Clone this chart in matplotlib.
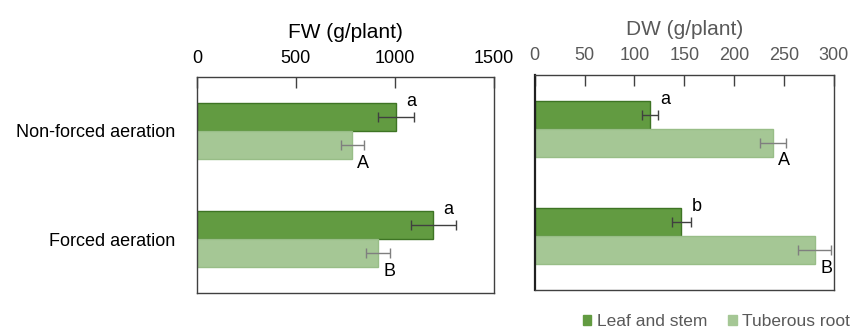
import numpy as np
import matplotlib
matplotlib.use('Agg')
import matplotlib.pyplot as plt
from matplotlib.patches import Patch

plt.rcParams['font.family'] = ['Liberation Sans', 'DejaVu Sans']

# --- data ---
treatments = ['Non-forced aeration', 'Forced aeration']
series = ['Leaf and stem', 'Tuberous root']

fw_leaf = [1005, 1195]
fw_leaf_err = [90, 112]
fw_root = [785, 915]
fw_root_err = [57, 62]
fw_leaf_sig = ['a', 'a']
fw_root_sig = ['A', 'B']

dw_leaf = [116, 147]
dw_leaf_err = [8, 9.5]
dw_root = [239, 281]
dw_root_err = [13, 16.5]
dw_leaf_sig = ['a', 'b']
dw_root_sig = ['A', 'B']

fw_ticks = [0, 500, 1000, 1500]
dw_ticks = [0, 50, 100, 150, 200, 250, 300]

DARK = '#629b41'
DARK_EDGE = '#3e7424'
LIGHT = '#a5c795'
LIGHT_EDGE = '#98bd87'

fig = plt.figure(figsize=(8.5, 3.33), dpi=100)
ax1 = fig.add_axes([0.2318, 0.120, 0.349, 0.649])
ax2 = fig.add_axes([0.629, 0.129, 0.352, 0.646])

y = np.arange(len(treatments)) + 0.5
h = 0.26


def draw_panel(ax, leaf, leaf_err, root, root_err, leaf_sig, root_sig,
               ticks, xmax, title, txt_color, cat_labels, tick_pad, title_pad):
    ax.barh(y - h / 2, leaf, height=h, color=DARK, edgecolor=DARK_EDGE, linewidth=1)
    ax.barh(y + h / 2, root, height=h, color=LIGHT, edgecolor=LIGHT_EDGE, linewidth=1)
    ax.errorbar(leaf, y - h / 2, xerr=leaf_err, fmt='none', ecolor='#404040',
                elinewidth=1, capsize=3.5, capthick=1)
    ax.errorbar(root, y + h / 2, xerr=root_err, fmt='none', ecolor='#7f7f7f',
                elinewidth=1, capsize=3.5, capthick=1)
    for i in range(len(y)):
        ax.annotate(leaf_sig[i], (leaf[i], y[i] - h), xytext=(11, 1),
                    textcoords='offset points', ha='center', va='center',
                    fontsize=13, color='black')
        ax.annotate(root_sig[i], (root[i], y[i] + h), xytext=(8, -3),
                    textcoords='offset points', ha='center', va='center',
                    fontsize=13, color='black')
    ax.set_xlim(0, xmax)
    ax.set_ylim(2, 0)
    ax.xaxis.tick_top()
    ax.set_xticks(ticks)
    ax.tick_params(axis='x', direction='in', length=8, width=1, pad=tick_pad,
                   labelsize=13, labelcolor=txt_color, color='#404040')
    ax.set_title(title, fontsize=15, color=txt_color, pad=title_pad)
    if cat_labels:
        ax.set_yticks(y)
        ax.set_yticklabels(treatments, fontsize=13)
        ax.tick_params(axis='y', length=0, pad=16)
    else:
        ax.set_yticks([])
    for s in ax.spines.values():
        s.set_color('#404040')
        s.set_linewidth(1)


draw_panel(ax1, fw_leaf, fw_leaf_err, fw_root, fw_root_err, fw_leaf_sig,
           fw_root_sig, fw_ticks, 1500, 'FW (g/plant)', 'black', True, 7, 9)
draw_panel(ax2, dw_leaf, dw_leaf_err, dw_root, dw_root_err, dw_leaf_sig,
           dw_root_sig, dw_ticks, 300, 'DW (g/plant)', '#595959', False, 8, 8.5)
ax2.spines['left'].set_linewidth(1.6)
ax2.spines['left'].set_color('#202020')

handles = [Patch(color=DARK, label=series[0]), Patch(color=LIGHT, label=series[1])]
leg = fig.legend(handles=handles, loc='lower right', bbox_to_anchor=(1.018, -0.035),
                 ncol=2, frameon=False, fontsize=12.5, handlelength=0.5,
                 handleheight=0.5, handletextpad=0.3, columnspacing=1.2)
for t in leg.get_texts():
    t.set_color('#595959')

fig.savefig('out.png', dpi=100)
